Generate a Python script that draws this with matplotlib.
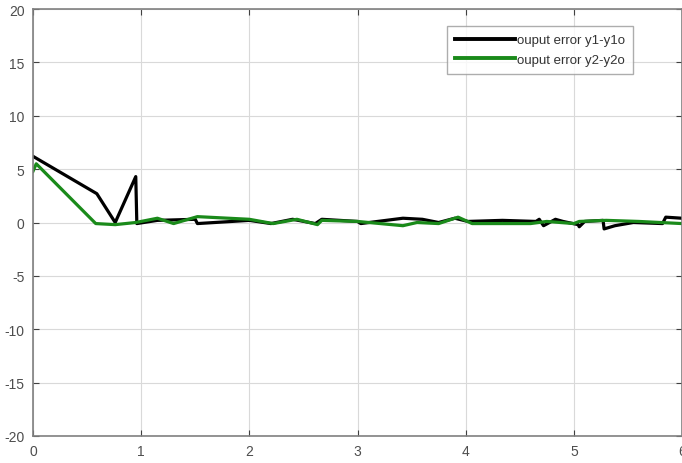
import matplotlib
matplotlib.use("Agg")
import matplotlib.pyplot as plt

# output error traces
T1 = [0.0, 0.59, 0.76, 0.95, 0.96, 1.15, 1.5, 1.52, 2.0, 2.2, 2.4, 2.61, 2.67,
      3.0, 3.03, 3.42, 3.6, 3.75, 3.9, 4.02, 4.34, 4.65, 4.68, 4.72, 4.83, 4.9,
      5.04, 5.05, 5.1, 5.27, 5.28, 5.38, 5.55, 5.82, 5.85, 6.0]
Y1 = [6.2, 2.7, 0.0, 4.3, -0.1, 0.2, 0.3, -0.1, 0.2, -0.1, 0.3, -0.1, 0.3,
      0.1, -0.1, 0.4, 0.3, 0.0, 0.4, 0.1, 0.2, 0.1, 0.3, -0.3, 0.3, 0.1,
      -0.2, -0.4, 0.1, 0.2, -0.6, -0.3, 0.0, -0.1, 0.5, 0.4]

T2 = [0.0, 0.03, 0.58, 0.76, 0.95, 1.15, 1.3, 1.52, 2.0, 2.22, 2.44, 2.63, 2.67,
      3.0, 3.42, 3.55, 3.75, 3.93, 4.06, 4.34, 4.6, 4.75, 5.0, 5.05, 5.3, 5.6,
      5.8, 6.0]
Y2 = [4.8, 5.5, -0.1, -0.2, 0.0, 0.4, -0.1, 0.55, 0.3, -0.1, 0.3, -0.2, 0.2,
      0.1, -0.3, 0.0, -0.1, 0.5, -0.1, -0.1, -0.1, 0.1, -0.1, 0.1, 0.2, 0.1,
      0.0, -0.1]

LABELS = ["ouput error y1-y1o", "ouput error y2-y2o"]
XTICKS = [0, 1, 2, 3, 4, 5, 6]
YTICKS = [-20, -15, -10, -5, 0, 5, 10, 15, 20]

plt.rcParams["font.family"] = ["Liberation Sans", "DejaVu Sans"]
plt.rcParams["axes.unicode_minus"] = False

fig = plt.figure(figsize=(6.82, 4.64), dpi=100)
ax = fig.add_axes([33 / 682, 27 / 464, 649 / 682, 427 / 464])

ax.plot(T1, Y1, color="black", linewidth=2.3, label=LABELS[0])
ax.plot(T2, Y2, color="#1a8a1a", linewidth=2.3, label=LABELS[1])

ax.set_xlim(0, 6)
ax.set_ylim(-20, 20)
ax.set_xticks(XTICKS)
ax.set_yticks(YTICKS)
ax.grid(True, color="#d9d9d9", linewidth=0.8)
ax.set_axisbelow(True)

for s in ax.spines.values():
    s.set_color("#808080")
    s.set_linewidth(1.2)
ax.tick_params(direction="in", length=4, width=0.8, color="#404040",
               labelcolor="#4d4d4d", labelsize=10, top=True, right=True, pad=6)

leg = ax.legend(loc="upper right", bbox_to_anchor=(0.925, 0.96), fontsize=9.5,
                frameon=True, fancybox=False, handlelength=4.6, handletextpad=0.15,
                borderpad=0.6, labelspacing=0.55, borderaxespad=0)
leg.get_frame().set_edgecolor("#999999")
leg.get_frame().set_linewidth(1.0)
for line in leg.get_lines():
    line.set_linewidth(2.8)
for txt in leg.get_texts():
    txt.set_color("#333333")

fig.savefig("out.png", dpi=100)
